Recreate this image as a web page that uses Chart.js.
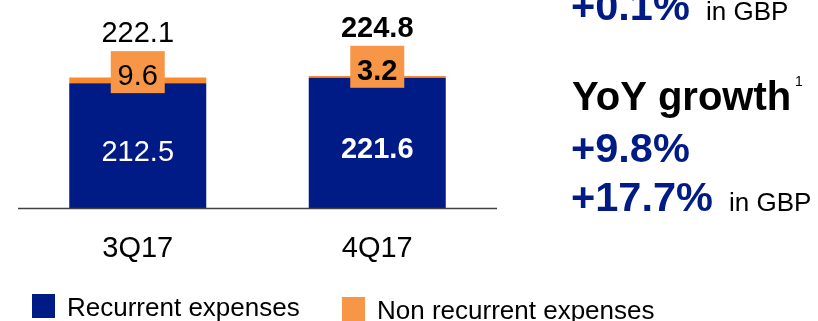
<!DOCTYPE html>
<html>
<head>
<meta charset="utf-8">
<script src="https://cdn.jsdelivr.net/npm/chart.js@4"></script>
<style>
  html, body { margin: 0; padding: 0; background: #fff; }
  canvas { display: block; }
</style>
</head>
<body>
<canvas id="expenses" width="818" height="321"></canvas>
<script>
// data
const quarters = ["3Q17", "4Q17"];
const recurrent = [212.5, 221.6];
const nonRecurrent = [9.6, 3.2];
const totals = [222.1, 224.8];
const boldQuarter = [false, true]; // latest quarter is shown in bold

// side notes
const qoqGbp = "+0.1%";
const yoyTitle = "YoY growth";
const yoyEur = "+9.8%";
const yoyGbp = "+17.7%";

const BLUE = "#001A86";
const ORANGE = "#F98B2E";
const TAG = "#F79646";
const FAMILY = "'Liberation Sans', Arial, sans-serif";

function font(size, bold) {
  return (bold ? "bold " : "") + size + "px " + FAMILY;
}

const labelsPlugin = {
  id: "labels",
  afterDatasetsDraw(chart) {
    const ctx = chart.ctx;
    const area = chart.chartArea;
    const bars = chart.getDatasetMeta(0).data;
    ctx.save();

    // base line
    ctx.strokeStyle = "#404040";
    ctx.lineWidth = 1.5;
    ctx.beginPath();
    ctx.moveTo(area.left, area.bottom + 0.5);
    ctx.lineTo(area.right, area.bottom + 0.5);
    ctx.stroke();

    ctx.textAlign = "center";
    ctx.textBaseline = "alphabetic";
    bars.forEach((bar, i) => {
      const b = boldQuarter[i];
      const mid = (bar.y + bar.base) / 2;
      ctx.font = font(29, b);
      ctx.fillStyle = "#fff";
      ctx.fillText(recurrent[i].toFixed(1), bar.x, mid + 15);

      // orange tag for non recurrent
      ctx.fillStyle = TAG;
      ctx.fillRect(bar.x - 27, bar.y - 32, 54, 42);
      ctx.fillStyle = "#000";
      ctx.fillText(nonRecurrent[i].toFixed(1), bar.x, bar.y + 2);

      // total
      ctx.fillText(totals[i].toFixed(1), bar.x, bar.y - 41);

      // category
      ctx.font = font(29, false);
      ctx.fillText(quarters[i], bar.x, area.bottom + 49);
    });

    // legend
    ctx.textAlign = "left";
    const ds = chart.data.datasets;
    const legendX = [32, 342];
    const legendY = [294, 297];
    ds.forEach((d, i) => {
      ctx.fillStyle = i === 0 ? d.backgroundColor : TAG;
      ctx.fillRect(legendX[i], legendY[i], 23, 24);
      ctx.fillStyle = "#000";
      ctx.font = font(26, false);
      ctx.fillText(d.label, legendX[i] + 35, legendY[i] + 22);
    });

    // growth notes on the right
    ctx.fillStyle = BLUE;
    ctx.font = font(41.5, true);
    ctx.fillText(qoqGbp, 571, 20);
    ctx.fillText(yoyEur, 571, 162);
    ctx.fillText(yoyGbp, 571, 211);
    ctx.fillStyle = "#000";
    ctx.font = font(40, true);
    ctx.fillText(yoyTitle, 572, 110);
    ctx.font = font(14, false);
    ctx.fillText("1", 795, 86);
    ctx.font = font(26, false);
    ctx.fillText("in GBP", 706, 20);
    ctx.fillText("in GBP", 729, 211);

    ctx.restore();
  }
};

new Chart("expenses", {
  type: "bar",
  data: {
    labels: quarters,
    datasets: [{
      label: "Recurrent expenses",
      data: recurrent,
      backgroundColor: BLUE,
      barPercentage: 0.572,
      categoryPercentage: 1
    }, {
      label: "Non recurrent expenses",
      data: nonRecurrent,
      backgroundColor: ORANGE,
      barPercentage: 0.572,
      categoryPercentage: 1
    }]
  },
  options: {
    responsive: false,
    animation: false,
    layout: { padding: { left: 18, right: 321, top: 0, bottom: 113 } },
    plugins: {
      legend: { display: false },
      tooltip: { enabled: false }
    },
    scales: {
      x: { stacked: true, display: false },
      y: { stacked: true, display: false, min: 0, max: 354 }
    }
  },
  plugins: [labelsPlugin]
});
</script>
</body>
</html>
